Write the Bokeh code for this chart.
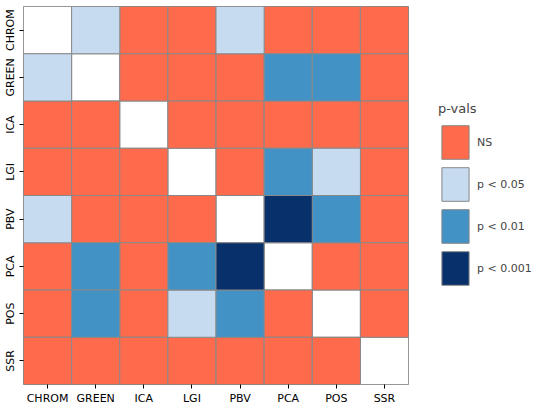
from bokeh.plotting import figure
from bokeh.models import Legend, LegendItem, ColumnDataSource
from bokeh.embed import file_html
from bokeh.resources import INLINE

methods = ["CHROM", "GREEN", "ICA", "LGI", "PBV", "PCA", "POS", "SSR"]
# significance per row (y) / column (x): "" = diagonal
sig = [
    ["", "p < 0.05", "NS", "NS", "p < 0.05", "NS", "NS", "NS"],
    ["p < 0.05", "", "NS", "NS", "NS", "p < 0.01", "p < 0.01", "NS"],
    ["NS", "NS", "", "NS", "NS", "NS", "NS", "NS"],
    ["NS", "NS", "NS", "", "NS", "p < 0.01", "p < 0.05", "NS"],
    ["p < 0.05", "NS", "NS", "NS", "", "p < 0.001", "p < 0.01", "NS"],
    ["NS", "p < 0.01", "NS", "p < 0.01", "p < 0.001", "", "NS", "NS"],
    ["NS", "p < 0.01", "NS", "p < 0.05", "p < 0.01", "NS", "", "NS"],
    ["NS", "NS", "NS", "NS", "NS", "NS", "NS", ""],
]
levels = ["NS", "p < 0.05", "p < 0.01", "p < 0.001"]
colors = {"NS": "#fe6a4c", "p < 0.05": "#c6dbef", "p < 0.01": "#4292c6", "p < 0.001": "#08306b", "": "white"}

p = figure(frame_width=385, frame_height=378, x_range=methods, y_range=methods[::-1],
           output_backend="svg", toolbar_location=None,
           min_border_left=11, min_border_top=6, min_border_bottom=0, min_border_right=0)

rends = {}
for lev in [""] + levels:
    xs, ys = [], []
    for i, row in enumerate(sig):
        for j, s in enumerate(row):
            if s == lev:
                xs.append(methods[j]); ys.append(methods[i])
    src = ColumnDataSource(dict(x=xs, y=ys))
    rends[lev] = p.rect(x="x", y="y", width=1, height=1, source=src,
                        fill_color=colors[lev], line_color="#888888", line_width=1)

legend = Legend(items=[LegendItem(label=l, renderers=[rends[l]]) for l in levels],
                title="p-vals", glyph_width=34, glyph_height=42, label_height=42,
                spacing=0, padding=4, margin=30, border_line_color=None,
                location="center_left",
                title_text_font_size="13px", label_text_font_size="11px",
                title_text_font_style="normal", label_text_font="DejaVu Sans",
                title_text_font="DejaVu Sans")
p.add_layout(legend, "right")

p.grid.visible = False
p.outline_line_color = "#888888"
p.axis.axis_line_color = None
p.axis.major_tick_line_color = "black"
p.axis.major_tick_out = 4
p.axis.major_tick_in = 0
p.axis.major_label_standoff = 3
p.axis.minor_tick_line_color = None
p.axis.major_label_text_font = "DejaVu Sans"
p.axis.major_label_text_font_size = "11px"
p.axis.major_label_text_color = "black"
p.yaxis.major_label_orientation = "vertical"

open("out.html", "w").write(file_html(p, INLINE))
